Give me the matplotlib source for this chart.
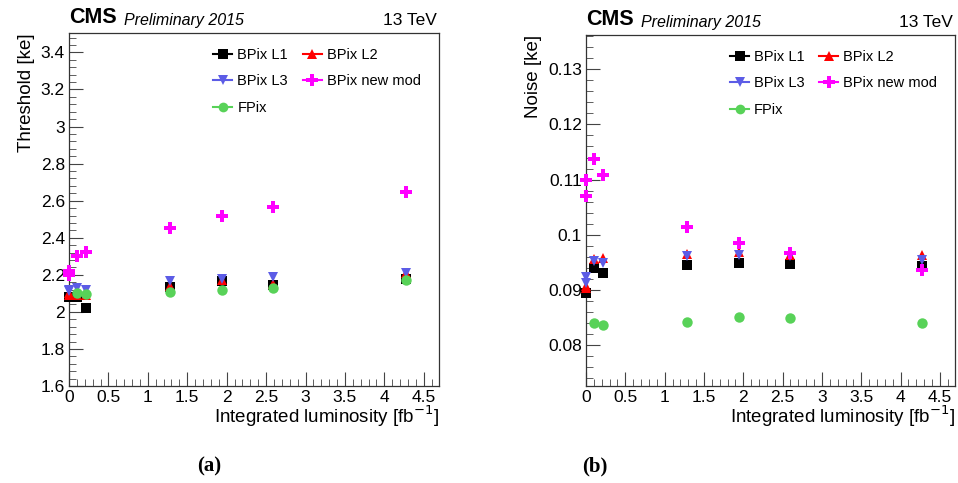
import numpy as np
import matplotlib
matplotlib.use('Agg')
import matplotlib.pyplot as plt
from matplotlib.lines import Line2D
from matplotlib.ticker import MultipleLocator

plt.rcParams['font.family'] = ['Liberation Sans', 'DejaVu Sans']

# integrated luminosity of each calibration run [fb^-1]
lumi = [0.0, 0.0, 0.1, 0.22, 1.28, 1.94, 2.59, 4.27]

# (a) threshold [ke]
thr_l1 = [2.08, 2.08, 2.08, 2.02, 2.135, 2.165, 2.145, 2.18]
thr_l2 = [2.09, 2.10, 2.09, 2.09, 2.14, 2.17, 2.15, 2.21]
thr_l3 = [2.12, 2.11, 2.13, 2.12, 2.165, 2.18, 2.19, 2.21]
thr_new = [2.20, 2.22, 2.30, 2.325, 2.455, 2.52, 2.565, 2.645]
thr_fpix = [np.nan, np.nan, 2.10, 2.095, 2.105, 2.12, 2.13, 2.17]

# (b) noise [ke]
noise_l1 = [0.0895, 0.0895, 0.0939, 0.0930, 0.0946, 0.0948, 0.0947, 0.0943]
noise_l2 = [0.0903, 0.0908, 0.0957, 0.0958, 0.0965, 0.0969, 0.0964, 0.0963]
noise_l3 = [0.0912, 0.0924, 0.0953, 0.0948, 0.0961, 0.0963, 0.0961, 0.0955]
noise_new = [0.1070, 0.1099, 0.1138, 0.1109, 0.1014, 0.0985, 0.0967, 0.0936]
noise_fpix = [np.nan, np.nan, 0.0840, 0.0836, 0.0842, 0.0851, 0.0849, 0.0840]

names = ['BPix L1', 'BPix L2', 'BPix L3', 'BPix new mod', 'FPix']
colors = ['black', '#ff0000', '#5c5ce6', '#ff00ff', '#58d258']
markers = ['s', '^', 'v', 'P', 'o']

fig = plt.figure(figsize=(9.58, 4.83), dpi=100)
ax1 = fig.add_axes([0.072, 0.2008, 0.386, 0.731])
ax2 = fig.add_axes([0.6117, 0.2008, 0.385, 0.7267])


def draw(ax, series, ylabel, ylim, major, minor, fmt):
    for vals, c, m in zip(series, colors, markers):
        ax.plot(lumi, vals, linestyle='none', marker=m, color=c,
                markersize=7.5 if m != 'P' else 8.5, markeredgewidth=0,
                clip_on=False, zorder=3)
    ax.set_xlim(0, 4.69)
    ax.set_ylim(*ylim)
    ax.xaxis.set_major_locator(MultipleLocator(0.5))
    ax.xaxis.set_minor_locator(MultipleLocator(0.1))
    ax.yaxis.set_major_locator(MultipleLocator(major))
    ax.yaxis.set_minor_locator(MultipleLocator(minor))
    ax.yaxis.set_major_formatter(plt.FuncFormatter(fmt))
    ax.xaxis.set_major_formatter(plt.FuncFormatter(lambda v, p: '%g' % v))
    ax.tick_params(which='both', direction='in', top=False, right=False,
                   labelsize=12.5, color='#444444')
    ax.tick_params(which='major', length=10, pad=3)
    ax.tick_params(which='minor', length=5)
    for s in ax.spines.values():
        s.set_color('#333333')
        s.set_linewidth(0.9)
    ax.set_xlabel('Integrated luminosity [fb$^{-1}$]', loc='right', fontsize=13.5,
                  labelpad=-1)
    ax.set_ylabel(ylabel, loc='top', fontsize=13.5)

    handles = [Line2D([], [], color=c, marker=m, markersize=7 if m != 'P' else 8,
                      markeredgewidth=0, linewidth=1.5)
               for c, m in zip(colors, markers)]
    order = [0, 2, 4, 1, 3]
    ax.legend([handles[i] for i in order], [names[i] for i in order], ncol=2,
              frameon=False, loc='upper left', bbox_to_anchor=(0.355, 0.995),
              fontsize=10.5, handlelength=1.3, handletextpad=0.35,
              columnspacing=1.0, labelspacing=0.85)

    ax.text(0.0, 1.015, 'CMS', transform=ax.transAxes, fontsize=15.5,
            fontweight='bold', ha='left', va='bottom')
    ax.text(0.15, 1.015, 'Preliminary 2015', transform=ax.transAxes,
            fontsize=11.5, style='italic', ha='left', va='bottom')
    ax.text(0.995, 1.015, '13 TeV', transform=ax.transAxes, fontsize=12.5,
            ha='right', va='bottom')


draw(ax1, [thr_l1, thr_l2, thr_l3, thr_new, thr_fpix], 'Threshold [ke]',
     (1.6, 3.505), 0.2, 0.04, lambda v, p: '%g' % round(v, 2))
draw(ax2, [noise_l1, noise_l2, noise_l3, noise_new, noise_fpix], 'Noise [ke]',
     (0.0726, 0.1362), 0.01, 0.002, lambda v, p: '%g' % round(v, 3))

fig.text(0.218, 0.034, '(a)', fontsize=15, fontweight='bold',
         family='Liberation Serif', ha='center', va='center')
fig.text(0.621, 0.034, '(b)', fontsize=15, fontweight='bold',
         family='Liberation Serif', ha='center', va='center')

fig.savefig('out.png', dpi=100)
